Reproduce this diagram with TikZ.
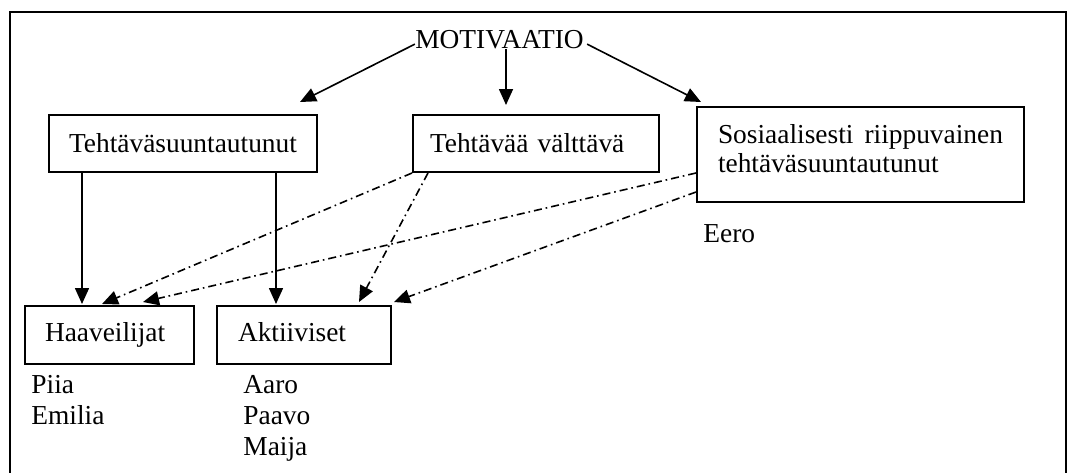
\documentclass[tikz,border=0pt]{standalone}
\usepackage{fontspec}
\setmainfont{Liberation Serif}
\usetikzlibrary{arrows.meta}
\begin{document}
\begin{tikzpicture}[x=0.5pt,y=-0.5pt,
  every node/.style={font=\fontsize{13.7}{14.5}\selectfont},
  box/.style={draw,line width=1pt,minimum height=28.5pt,inner ysep=0pt},
  lbox/.style={box,align=left},
  arr/.style={line width=0.8pt,-{Triangle[length=8pt,width=7pt]}},
  dd/.style={arr,dash pattern=on 4pt off 2pt on 0.8pt off 2pt},
  lbl/.style={anchor=base west,inner sep=0pt}]
\useasboundingbox (0,0) rectangle (1069,472);
\draw[line width=1pt] (10,473) -- (10,12) -- (1066,12) -- (1066,473);

\node[inner sep=0pt,anchor=base] (mot) at (499.5,48) {MOTIVAATIO};

\node[box,minimum width=134pt] (box1) at (183,143.5) {Tehtäväsuuntautunut};
\node[lbox,minimum width=123pt,inner xsep=8.5pt,text width=106pt] (box2) at (536,143.5) {Tehtävää välttävä};
\node[lbox,minimum width=163.5pt,minimum height=47.5pt,inner xsep=10.5pt,text width=142.5pt] (box3) at (860.5,154.5)
  {Sosiaalisesti\hfill riippuvainen\\tehtäväsuuntautunut\rule[-6pt]{0pt}{0pt}};
\node[lbox,minimum width=84.5pt,minimum height=29pt,inner xsep=10pt,text width=64.5pt,text depth=3pt] (box4) at (109.5,335) {Haaveilijat};
\node[lbox,minimum width=87pt,minimum height=29pt,inner xsep=10.5pt,text width=66pt,text depth=3pt] (box5) at (304,335) {Aktiiviset};

\node[lbl] (piia) at (31,393) {Piia};
\node[lbl] (emilia) at (31,424) {Emilia};
\node[lbl] (aaro) at (243,393) {Aaro};
\node[lbl] (paavo) at (243,424) {Paavo};
\node[lbl] (maija) at (243,455) {Maija};
\node[lbl] (eero) at (703,242) {Eero};

% arrows from MOTIVAATIO
\draw[arr] ([yshift=-2.5pt]mot.west) -- ([xshift=-9pt,yshift=6pt]box1.north east);
\coordinate (m2) at ([xshift=3.25pt]mot.south);
\coordinate (b2t) at ([yshift=4.5pt]box2.north);
\draw[arr] (m2) -- (m2 |- b2t);
\draw[arr] ([xshift=1.5pt,yshift=-2.5pt]mot.east) -- ([xshift=2.5pt,yshift=2pt]box3.north west);

% solid vertical arrows
\coordinate (s1) at ([xshift=17pt]box1.south west);
\coordinate (s2) at ([xshift=-21pt]box1.south east);
\coordinate (t4) at ([yshift=0.5pt]box4.north);
\draw[arr] (s1) -- (s1 |- t4);
\draw[arr] (s2) -- (s2 |- t4);

% dash-dot arrows
\draw[dd] (box2.south west) -- ([xshift=39pt,yshift=0.5pt]box4.north west);
\draw[dd] ([xshift=8pt]box2.south west) -- ([xshift=-16.5pt,yshift=1.5pt]box5.north east);
\draw[dd] ([yshift=-9.25pt]box3.west) -- ([xshift=-26pt,yshift=1.5pt]box4.north east);
\draw[dd] ([yshift=-18.75pt]box3.west) -- ([xshift=1pt,yshift=1.5pt]box5.north east);
\end{tikzpicture}
\end{document}
